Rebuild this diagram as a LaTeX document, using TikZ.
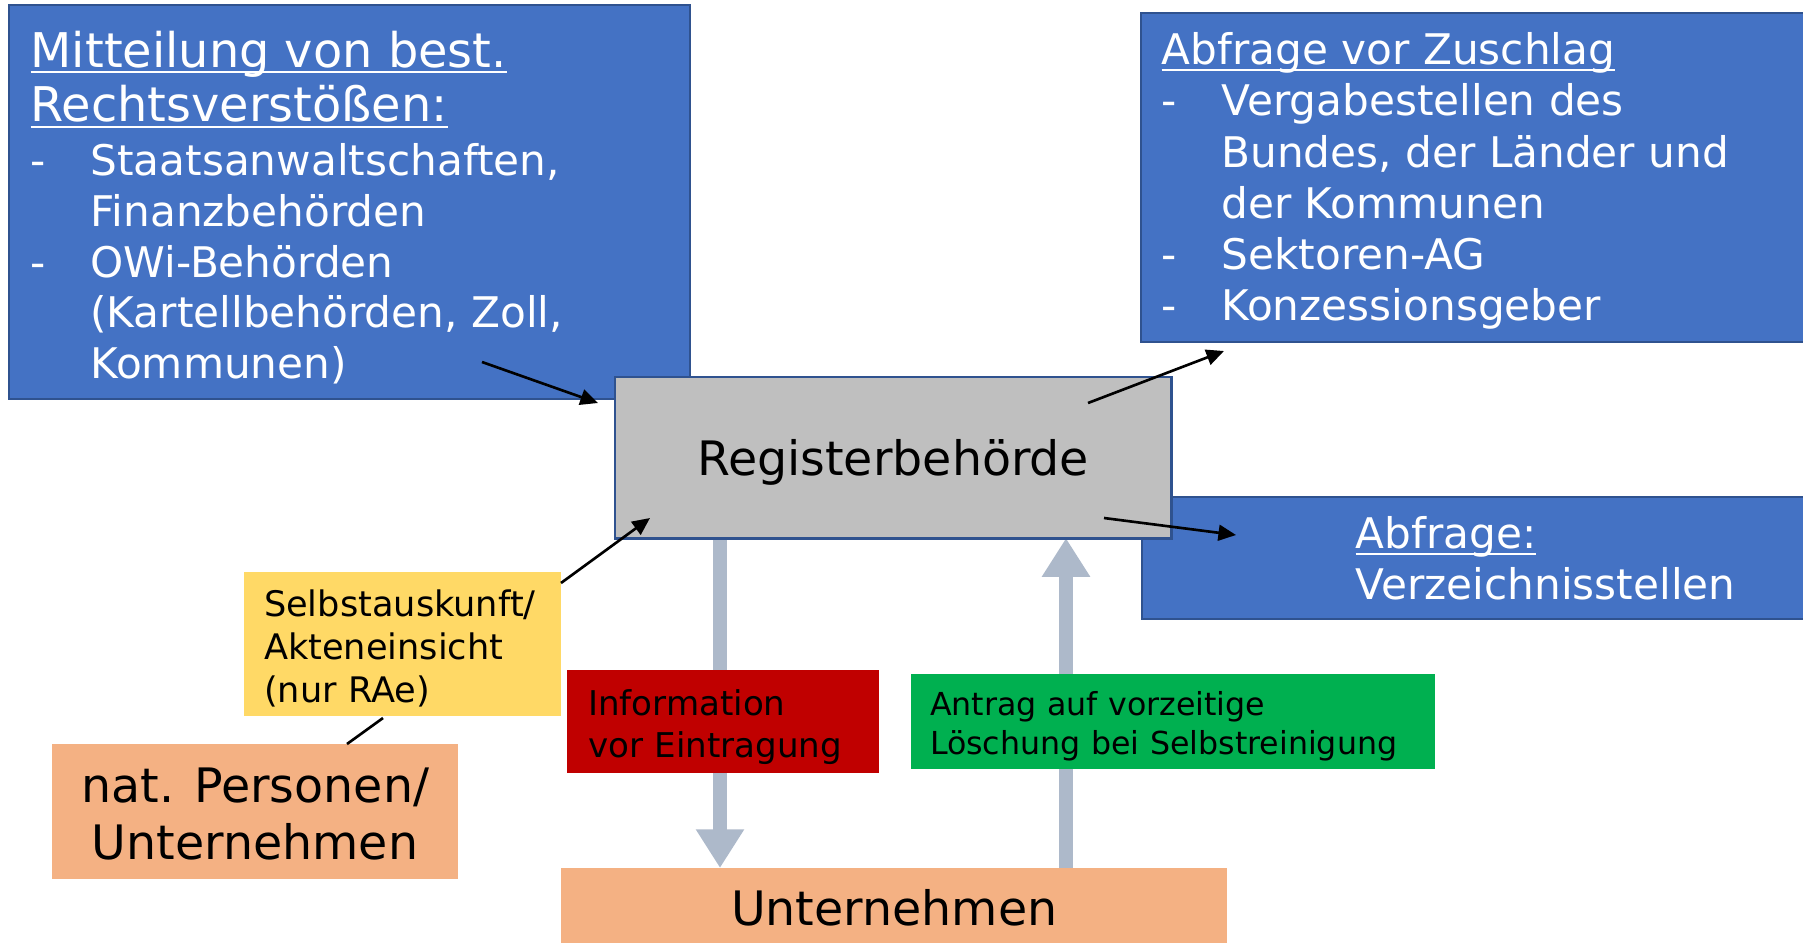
\documentclass[tikz,border=0pt]{standalone}
\usepackage{fontspec}
\setmainfont{DejaVu Sans}
\usetikzlibrary{arrows.meta,backgrounds,calc,positioning}

\definecolor{boxblue}{HTML}{4472C4}
\definecolor{edgeblue}{HTML}{2F528F}
\definecolor{regrey}{HTML}{BFBFBF}
\definecolor{selbstyellow}{HTML}{FFD966}
\definecolor{firmorange}{HTML}{F4B183}
\definecolor{infored}{HTML}{C00000}
\definecolor{antraggreen}{HTML}{00B050}
\definecolor{flowgrey}{HTML}{ADB9CA}

\tikzset{
  box/.style={rectangle,anchor=north west,inner sep=0pt,outer sep=0pt},
  bluebox/.style={box,fill=boxblue,draw=edgeblue,line width=0.6pt},
  bluetext/.style={anchor=north west,inner sep=0pt,align=left,text=white,font=\fontsize{12}{14.4}\selectfont},
  bigarrow/.style={line width=4pt,flowgrey,-{Triangle[length=11pt,width=13pt]}},
  thinarrow/.style={line width=0.75pt,-{Triangle[length=5pt,width=4.5pt]}},
}
\newcommand{\dashitem}{\makebox[17pt][l]{-}}
\newcommand{\dashgap}{\hspace*{17pt}}
\newcommand{\titlesize}{\fontsize{13.6}{15.6}\selectfont}
\newsavebox{\ulbox}
\newcommand{\ulfix}[1]{\sbox{\ulbox}{#1}\rlap{\rule[-1.8pt]{\wd\ulbox}{0.6pt}}\usebox{\ulbox}}

\begin{document}
\begin{tikzpicture}[x=0.01cm,y=-0.01cm]
       \useasboundingbox (0,0) rectangle (1803,942);

       \coordinate (mittOut) at (482,362);
       \coordinate (regInL) at (598,403);
       \coordinate (regOutT) at (1088,403);
       \coordinate (zuschlagIn) at (1224,351);
       \coordinate (regOutB) at (1104,518);
       \coordinate (verzIn) at (1236,535);
       \coordinate (selbstOut) at (561,583);
       \coordinate (regInB) at (650,518);
       \coordinate (natpTop) at (347,744);
       \coordinate (selbstBot) at (383,718);
       \coordinate (dnX) at (720,0);
       \coordinate (upX) at (1066,0);

       \node[bluebox,minimum width=68.1mm,minimum height=39.4mm] (mitt) at (9,5) {};
       \node[bluetext] (mittText) at (30,30) {\ulfix{\titlesize Mitteilung von best.}\\[1.2pt] \ulfix{\titlesize Rechtsverstößen:}\\[0.95pt] \dashitem Staatsanwaltschaften,\\ \dashgap Finanzbehörden\\ \dashitem OWi-Behörden\\ \dashgap (Kartellbehörden, Zoll,\\ \dashgap Kommunen)};

       \node[bluebox,minimum width=70mm,minimum height=32.9mm] (zuschlag) at (1141,13) {};
       \node[bluetext,font=\fontsize{12}{14.55}\selectfont] (zuschlagText) at (1161,32) {\ulfix{Abfrage vor Zuschlag}\\ \dashitem Vergabestellen des\\ \dashgap Bundes, der Länder und\\ \dashgap der Kommunen\\ \dashitem Sektoren-AG\\ \dashitem Konzessionsgeber};

       \node[bluebox,minimum width=70mm,minimum height=12.2mm] (verz) at (1142,497) {};
       \node[bluetext] (verzText) at (1355,516) {\ulfix{Abfrage:}\\ Verzeichnisstellen};

       \node[box,fill=regrey,draw=edgeblue,line width=0.8pt,minimum width=55.6mm,minimum height=16.1mm,font=\fontsize{13.5}{16}\selectfont] (reg) at (615,377) {\rule{0pt}{12.9pt}Registerbehörde};

       \node[box,fill=selbstyellow,minimum width=31.7mm,minimum height=14.4mm,text width=27.7mm,inner xsep=2mm,align=left,font=\fontsize{10}{12.25}\selectfont] (selbst) at (244,572) {\rule{0pt}{10.1pt}Selbstauskunft/\\ Akteneinsicht\\ (nur RAe)};
       \node[box,fill=firmorange,minimum width=40.6mm,minimum height=13.5mm,align=center,font=\fontsize{13.5}{16.05}\selectfont] (natp) at (52,744) {\rule{0pt}{11.3pt}nat. Personen/\\ Unternehmen};
       \node[box,fill=infored,minimum width=31.2mm,minimum height=10.3mm,text width=27mm,inner xsep=2.1mm,align=left,font=\fontsize{9.7}{11.8}\selectfont] (info) at (567,670) {\rule{0pt}{10.4pt}Information\\ vor Eintragung};
       \node[box,fill=antraggreen,minimum width=52.4mm,minimum height=9.5mm,text width=48.6mm,inner xsep=1.9mm,align=left,font=\fontsize{9}{11.1}\selectfont] (antrag) at (911,674) {\rule{0pt}{9.45pt}Antrag auf vorzeitige\\ Löschung bei Selbstreinigung};
       \node[box,fill=firmorange,minimum width=66.6mm,minimum height=8mm,font=\fontsize{13.5}{16}\selectfont] (untern) at (561,868) {Unternehmen};

       \begin{scope}[on background layer]
       \draw[bigarrow] (reg.south -| dnX) -- (untern.north -| dnX);
       \draw[bigarrow] (untern.north -| upX) -- (reg.south -| upX);
       \end{scope}

       \draw[thinarrow] (mittOut) -- (regInL);
       \draw[thinarrow] (regOutT) -- (zuschlagIn);
       \draw[thinarrow] (regOutB) -- (verzIn);
       \draw[thinarrow] (selbstOut) -- (regInB);
       \draw[line width=0.75pt] (natpTop) -- (selbstBot);
\end{tikzpicture}
\end{document}
